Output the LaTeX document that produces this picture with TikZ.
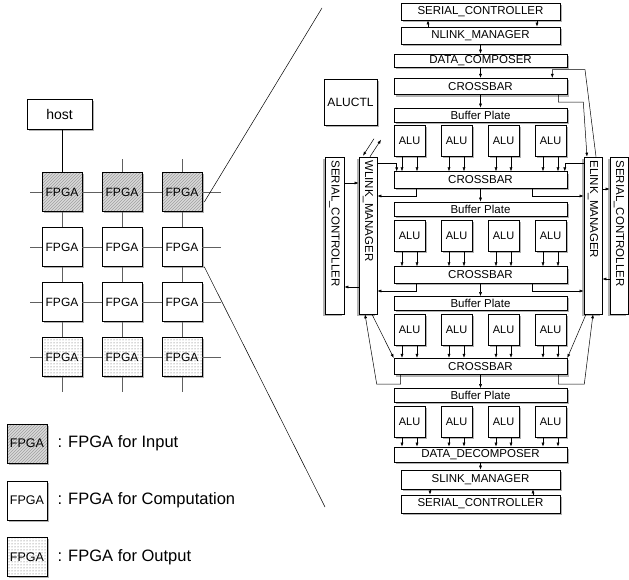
\documentclass[tikz,border=0pt]{standalone}
\usepackage{fontspec}
\setmainfont{Liberation Sans}
\setsansfont{Liberation Sans}
\usepackage{graphicx}
\usetikzlibrary{
    arrows.meta,
    positioning,
    calc,
    shadows,
    patterns
}
\newcommand{\sidelabel}[1]{\rotatebox{-90}{\makebox[150pt][l]{#1}}}
\tikzset{
    % --- Box with shadow to the lower right ---
    boxed/.style = {
        rectangle, draw, line width=0.6pt, fill=white, inner sep=0pt,
        drop shadow={shadow xshift=1.8pt, shadow yshift=-1.8pt,
                     fill=gray!60, opacity=1}
    },
    % --- Upright box with shadow to the lower left ---
    side box/.style = {
        rectangle, draw, line width=0.6pt, fill=white, inner sep=0pt,
        minimum height=157pt,
        font=\fontsize{11.5}{12}\selectfont,
        drop shadow={shadow xshift=-1.8pt, shadow yshift=-1.8pt,
                     fill=gray!60, opacity=1}
    },
    % --- FPGA tile in the array ---
    fpga/.style = {
        boxed, minimum width=40pt, minimum height=39pt,
        font=\fontsize{12}{14}\selectfont
    },
    % --- FPGA for input (hatched) ---
    fpgain/.style = {
        fpga, preaction={fill=gray!30},
        pattern=north east lines, pattern color=gray!75
    },
    % --- FPGA for output (dotted) ---
    fpgaout/.style = {
        fpga, preaction={fill=white},
        pattern=dots, pattern color=gray!70!black
    },
    % --- Block of the FPGA inside ---
    unit/.style = {
        boxed, minimum width=173pt,
        font=\fontsize{11.5}{12}\selectfont
    },
    % --- ALU ---
    alu/.style = {
        boxed, minimum width=31pt, minimum height=31pt,
        font=\fontsize{11}{12}\selectfont
    },
    % --- Legend text ---
    legend text/.style = {
        font=\fontsize{16.5}{18}\selectfont, inner sep=0pt
    },
    % --- Wires ---
    wire/.style = {line width=0.5pt},
    grid wire/.style = {line width=0.9pt, gray!75!black}
}

\begin{document}
\begin{tikzpicture}[
    x=1pt, y=-1pt,
    >={Latex[length=4pt,width=3pt]}, line width=0.5pt, font=\sffamily
]
\useasboundingbox (0,0) rectangle (629,580);

% ---------------------------------------------------------
% FPGA array
% ---------------------------------------------------------
\node[boxed, minimum width=65pt, minimum height=30pt,
      font=\fontsize{14}{16}\selectfont] (host) at (59.5,114) {host};

\foreach \r/\y/\kind in {1/192/fpgain, 2/247/fpga, 3/302/fpga, 4/357/fpgaout} {
    \foreach \c/\x in {1/62, 2/122, 3/182} {
        \node[\kind] (f\r\c) at (\x,\y) {FPGA};
    }
}

\foreach \r in {1,...,4} {
    \draw[grid wire] (f\r1) -- (f\r2) -- (f\r3);
    \draw[grid wire] (f\r1.west) -- ++(-12,0);
    \draw[grid wire] (f\r3.east) -- ++(19,0);
}
\foreach \c in {1,2,3} {
    \draw[grid wire] (f1\c) -- (f2\c) -- (f3\c) -- (f4\c);
    \draw[grid wire] (f4\c.south) -- ++(0,15);
}
\foreach \c in {2,3} \draw[grid wire] (f1\c.north) -- ++(0,-13);
\draw[wire] (f11.north |- host.south) -- (f11.north);

% ---------------------------------------------------------
% Legend
% ---------------------------------------------------------
\node[fpgain, font=\fontsize{12.5}{14}\selectfont] (lin) at (27,443.5) {FPGA};
\node[fpga, font=\fontsize{12.5}{14}\selectfont] (lcomp) at (27,500.5) {FPGA};
\node[fpgaout, font=\fontsize{12.5}{14}\selectfont] (lout) at (27,557) {FPGA};
\node[legend text, right=10pt of lin] (tin) {: FPGA for Input};
\node[legend text, right=10pt of lcomp] (tcomp) {: FPGA for Computation};
\node[legend text, right=10pt of lout] (tout) {: FPGA for Output};

% ---------------------------------------------------------
% Inside one FPGA: vertical chain
% ---------------------------------------------------------
\node[unit, minimum width=159pt, minimum height=17pt] (sctop) at (480.5,11.5) {SERIAL\_CONTROLLER};
\node[unit, minimum width=159pt, minimum height=17pt] (nlink) at (480.5,35.5) {NLINK\_MANAGER};
\node[unit, minimum height=13pt] (dcomp) at (480.5,60.5) {DATA\_COMPOSER};
\node[boxed, minimum width=53pt, minimum height=46pt,
      font=\fontsize{12}{14}\selectfont] (aluctl) at (350.5,102) {ALUCTL};

\foreach \r/\yc/\yb in {1/86.5/115, 2/180/209, 3/275/303.5, 4/366.5/395.5} {
    \node[unit, minimum height=16.5pt] (cb\r) at (480.5,\yc) {CROSSBAR};
    \node[unit, minimum height=14pt] (bp\r) at (480.5,\yb) {Buffer Plate};
}
\foreach \r/\y in {1/140.5, 2/235.5, 3/329.5, 4/421.5} {
    \foreach \c/\x in {1/409.5, 2/456.5, 3/503.5, 4/550.5} {
        \node[alu] (alu\r\c) at (\x,\y) {ALU};
    }
}
\node[unit, minimum height=15pt] (ddec) at (480.5,454.5) {DATA\_DECOMPOSER};
\node[unit, minimum width=159pt, minimum height=19pt] (slink) at (480.5,479.5) {SLINK\_MANAGER};
\node[unit, minimum width=159pt, minimum height=18pt] (scbot) at (480.5,504) {SERIAL\_CONTROLLER};

% ---------------------------------------------------------
% Side managers
% ---------------------------------------------------------
\node[side box, minimum width=19pt] (scleft) at (334.5,235.5) {\sidelabel{SERIAL\_CONTROLLER}};
\node[side box, minimum width=18pt] (wlink) at (368,235.5) {\sidelabel{WLINK\_MANAGER}};
\node[side box, minimum width=18pt] (elink) at (593,235.5) {\sidelabel{ELINK\_MANAGER}};
\node[side box, minimum width=18pt] (scright) at (619,235.5) {\sidelabel{SERIAL\_CONTROLLER}};

% ---------------------------------------------------------
% Arrows along the chain
% ---------------------------------------------------------
\draw[->] (nlink.north -| 428,0) -- (sctop.south -| 428,0);
\draw[->] (sctop.south -| 537,0) -- (nlink.north -| 537,0);
\draw[->] (nlink) -- (dcomp);
\draw[->] (dcomp) -- (cb1);
\foreach \r in {1,...,4} \draw[->] (cb\r) -- (bp\r);
\foreach \r/\next in {1/cb2, 2/cb3, 3/cb4, 4/ddec} {
    \foreach \c in {1,...,4} {
        \draw[->] ([xshift=-7.5pt]alu\r\c.south) -- ([xshift=-7.5pt]alu\r\c.south |- \next.north);
        \draw[->] ([xshift=7.5pt]alu\r\c.south) -- ([xshift=7.5pt]alu\r\c.south |- \next.north);
    }
}
\draw[->] (ddec) -- (slink);
\draw[->] (slink.south -| 430,0) -- (scbot.north -| 430,0);
\draw[->] (scbot.north -| 533,0) -- (slink.south -| 533,0);

% ---------------------------------------------------------
% Crossbars and side managers
% ---------------------------------------------------------
\draw[->] ([xshift=-9pt]cb1.south east) -- ++(0,7) -- ++(25,0) -- ([xshift=-6pt]elink.north);
\draw[->] ([xshift=3pt]elink.north) -- ++(-11,-87) -| ([xshift=-15pt]cb1.north east);

\draw[->] ([yshift=-7pt]wlink.north east) -| ([xshift=3pt]cb2.north west);
\draw[->] ([yshift=-7pt]elink.north west) -| ([xshift=-2.5pt]cb2.north east);
\foreach \r/\y in {2/196, 3/291} {
    \draw[->] ([xshift=23pt]cb\r.south west) |- (wlink.east |- 0,\y);
    \draw[->] ([xshift=-35pt]cb\r.south east) |- (elink.west |- 0,\y);
}

\draw[->] ([xshift=7pt]cb4.south west) -- ++(0,9) -- ++(-24,0) -- ([xshift=-3pt]wlink.south);
\draw[->] ([xshift=4pt]wlink.south) -- (cb4.north west);
\draw[->] ([xshift=-9pt]cb4.south east) -- ++(0,9) -- ++(26,0) -- (elink.south);
\draw[->] ([xshift=-7pt]elink.south) -- (cb4.north east);

\draw[->] (scleft.east |- 0,183) -- (wlink.west |- 0,183);
\draw[->] (wlink.west |- 0,287) -- (scleft.east |- 0,287);
\draw[->] (elink.east |- 0,189) -- (scright.west |- 0,189);
\draw[->] (scright.west |- 0,279) -- (elink.east |- 0,279);

% off-chip links of WLINK
\draw[->] ([shift={(6,-18)}]wlink.north) -- ([shift={(-5,-1)}]wlink.north);
\draw[->] ([shift={(2,0)}]wlink.north) -- ([shift={(13,-17)}]wlink.north);

% ---------------------------------------------------------
% Zoom lines
% ---------------------------------------------------------
\coordinate (zoomtop) at (322,8);
\coordinate (zoombot) at (325,507);
\draw[wire] ([xshift=2pt,yshift=-10pt]f13.east) -- (zoomtop);
\draw[wire] ([xshift=2pt]f23.south east) -- (zoombot);

\end{tikzpicture}
\end{document}
